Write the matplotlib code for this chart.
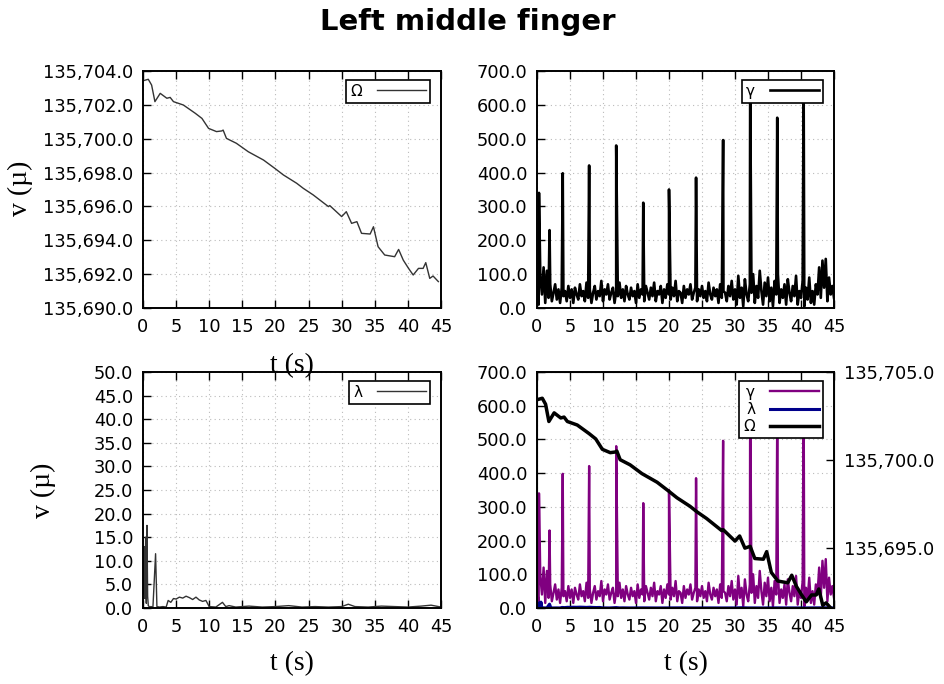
import matplotlib
matplotlib.use('Agg')
import matplotlib.pyplot as plt
from matplotlib.ticker import FuncFormatter, MultipleLocator
import numpy as np

# Omega (slow drift), seconds / value
om_t = [0.05, 0.8, 1.3, 1.8, 2.6, 3.6, 4.1, 4.6, 6.1, 7.9, 8.9, 9.9, 11.1, 11.9, 12.1,
        12.6, 14.1, 15.9, 18.2, 19.9, 21.2, 23.2, 24.2, 25.7, 28.0, 28.2, 30.0, 30.7,
        31.5, 32.3, 33.0, 34.3, 34.8, 35.5, 36.5, 38.0, 38.6, 39.3, 40.1, 40.8, 41.6,
        42.3, 42.7, 43.3, 43.8, 44.6]
om_v = [135703.43, 135703.51, 135703.17, 135702.19, 135702.68, 135702.39, 135702.44,
        135702.19, 135701.99, 135701.50, 135701.20, 135700.61, 135700.42, 135700.46,
        135700.51, 135700.02, 135699.73, 135699.23, 135698.74, 135698.25, 135697.86,
        135697.37, 135697.07, 135696.68, 135695.99, 135696.05, 135695.40, 135695.69,
        135695.00, 135695.10, 135694.41, 135694.37, 135694.80, 135693.62, 135693.13,
        135693.03, 135693.46, 135692.83, 135692.34, 135691.95, 135692.34, 135692.34,
        135692.68, 135691.75, 135691.89, 135691.56]

# gamma baseline, one value every 0.25 s from 0 to 45
gam_base = [60, 10, 95, 40, 120, 15, 110, 30, 70, 20, 45, 70, 25, 55, 15, 60, 35, 50, 20, 65,
            30, 55, 15, 60, 40, 25, 70, 35, 50, 20, 75, 30, 55, 15, 45, 65, 25, 50, 35, 80,
            20, 55, 40, 70, 25, 45, 60, 15, 50, 35, 75, 30, 55, 20, 65, 40, 25, 60, 35, 50,
            15, 70, 30, 55, 40, 20, 65, 45, 25, 60, 35, 75, 20, 50, 40, 65, 15, 55, 30, 70,
            40, 25, 60, 35, 80, 20, 50, 45, 15, 65, 30, 55, 40, 70, 25, 45, 60, 20, 55, 35,
            65, 30, 50, 20, 75, 40, 25, 60, 35, 55, 15, 70, 30, 50, 45, 20, 65, 35, 80, 25,
            55, 10, 95, 30, 60, 5, 85, 40, 20, 70, 45, 100, 15, 65, 30, 110, 50, 10, 75, 35,
            90, 20, 60, 5, 80, 40, 100, 15, 55, 30, 70, 10, 85, 45, 20, 65, 35, 95, 10, 50,
            30, 80, 5, 60, 25, 90, 15, 50, 10, 70, 40, 120, 30, 140, 60, 145, 20, 90, 40, 65,
            30]
# periodic spikes
spike_t = [0.3, 1.9, 3.9, 7.9, 12.0, 16.1, 20.0, 24.1, 28.2, 32.3, 36.4, 40.4]
spike_v = [340, 230, 398, 421, 480, 311, 350, 385, 496, 660, 562, 650]

# lambda
lam_t = [0.0, 0.1, 0.2, 0.3, 0.4, 0.5, 0.6, 0.7, 0.8, 1.0, 1.2, 1.5, 1.9, 2.1, 2.5, 3.0,
         3.5, 3.8, 4.2, 4.6, 5.0, 5.5, 6.0, 6.5, 7.0, 7.5, 8.0, 8.5, 9.0, 9.5, 10.0, 11.0,
         12.0, 12.5, 13.0, 14.0, 16.0, 18.0, 20.0, 22.0, 24.0, 26.0, 28.0, 30.0, 31.0,
         32.0, 34.0, 36.0, 38.0, 40.0, 42.0, 43.5, 45.0]
lam_v = [14.5, 3.0, 13.0, 2.0, 15.0, 1.0, 17.5, 2.5, 0.5, 0.2, 0.3, 0.2, 11.5, 0.3, 0.2,
         0.3, 0.2, 1.6, 1.2, 2.0, 1.9, 2.3, 2.1, 2.5, 2.2, 1.8, 2.3, 1.7, 1.4, 1.6, 0.3,
         0.2, 1.2, 0.3, 0.5, 0.2, 0.4, 0.2, 0.3, 0.5, 0.2, 0.3, 0.2, 0.3, 0.8, 0.3, 0.2,
         0.4, 0.3, 0.2, 0.4, 0.6, 0.2]

# merge baseline and spikes
gam_t = list(np.arange(len(gam_base)) * 0.25) + spike_t
gam_v = gam_base + spike_v
order = np.argsort(gam_t)
gam_t = np.array(gam_t)[order]
gam_v = np.array(gam_v)[order]

fmt = FuncFormatter(lambda v, p: f'{v:,.1f}')
serif = 'Liberation Serif'
TICK_FS = 12.8

W, H = 945, 684
fig = plt.figure(figsize=(W / 100, H / 100), dpi=100)


def make_ax(x0, y0, x1, y1):
    ax = fig.add_axes([x0 / W, 1 - y1 / H, (x1 - x0) / W, (y1 - y0) / H])
    ax.set_xlim(0, 45)
    ax.xaxis.set_major_locator(MultipleLocator(5))
    ax.tick_params(direction='in', length=6, width=1, top=True, right=False,
                   labelsize=TICK_FS, pad=7)
    ax.grid(True, color='#bbbbbb', linestyle=(0, (1, 3)), linewidth=0.8)
    for s in ax.spines.values():
        s.set_linewidth(1.4)
    return ax


def legend(ax, x, y, handles=None):
    leg = ax.legend(handles=handles, loc='upper right', bbox_to_anchor=(x, y),
                    markerfirst=False, fancybox=False, edgecolor='black', framealpha=1,
                    fontsize=11, handlelength=3.2, borderaxespad=0, borderpad=0.25,
                    labelspacing=0.15, handletextpad=1.0)
    leg.get_frame().set_linewidth(1.2)


# top left: Omega
ax1 = make_ax(143, 71, 441, 308)
ax1.plot(om_t, om_v, color='#333333', lw=1, label='Ω')
ax1.set_ylim(135690, 135704)
ax1.yaxis.set_major_locator(MultipleLocator(2))
ax1.yaxis.set_major_formatter(fmt)
legend(ax1, 0.963, 0.962)

# top right: gamma
ax2 = make_ax(537, 71, 834, 308)
ax2.plot(gam_t, gam_v, color='black', lw=1.9, label='γ')
ax2.set_ylim(0, 700)
ax2.yaxis.set_major_locator(MultipleLocator(100))
ax2.yaxis.set_major_formatter(fmt)
legend(ax2, 0.963, 0.962)

# bottom left: lambda
ax3 = make_ax(143, 372, 441, 608)
ax3.plot(lam_t, lam_v, color='#333333', lw=1, label='λ')
ax3.set_ylim(0, 50)
ax3.yaxis.set_major_locator(MultipleLocator(5))
ax3.yaxis.set_major_formatter(fmt)
legend(ax3, 0.963, 0.962)

# bottom right: all three
ax4 = make_ax(537, 372, 834, 608)
ax4.set_ylim(0, 700)
ax4.yaxis.set_major_locator(MultipleLocator(100))
ax4.yaxis.set_major_formatter(fmt)
l1, = ax4.plot(gam_t, gam_v, color='#800080', lw=1.7, label='γ')
l2, = ax4.plot(lam_t, lam_v, color='#00008b', lw=2.2, label='λ')
ax5 = ax4.twinx()
ax5.set_ylim(135691.6, 135705)
ax5.yaxis.set_major_locator(MultipleLocator(5))
ax5.yaxis.set_major_formatter(fmt)
ax5.tick_params(direction='in', length=6, width=1, labelsize=TICK_FS, pad=7)
l3, = ax5.plot(om_t, om_v, color='black', lw=2.5, label='Ω')
legend(ax5, 0.963, 0.962, handles=[l1, l2, l3])

# labels
fig.text(468 / W, 1 - 22 / H, 'Left middle finger', ha='center', va='center',
         fontsize=21, fontweight='bold')
fig.text(20 / W, 1 - 188 / H, 'v (µ)', rotation=90, ha='center', va='center',
         fontsize=20, family=serif)
fig.text(43 / W, 1 - 490 / H, 'v (µ)', rotation=90, ha='center', va='center',
         fontsize=20, family=serif)
fig.text(292 / W, 1 - 366 / H, 't (s)', ha='center', va='center', fontsize=20, family=serif)
fig.text(292 / W, 1 - 664 / H, 't (s)', ha='center', va='center', fontsize=20, family=serif)
fig.text(686 / W, 1 - 664 / H, 't (s)', ha='center', va='center', fontsize=20, family=serif)

fig.savefig('out.png', dpi=100)
